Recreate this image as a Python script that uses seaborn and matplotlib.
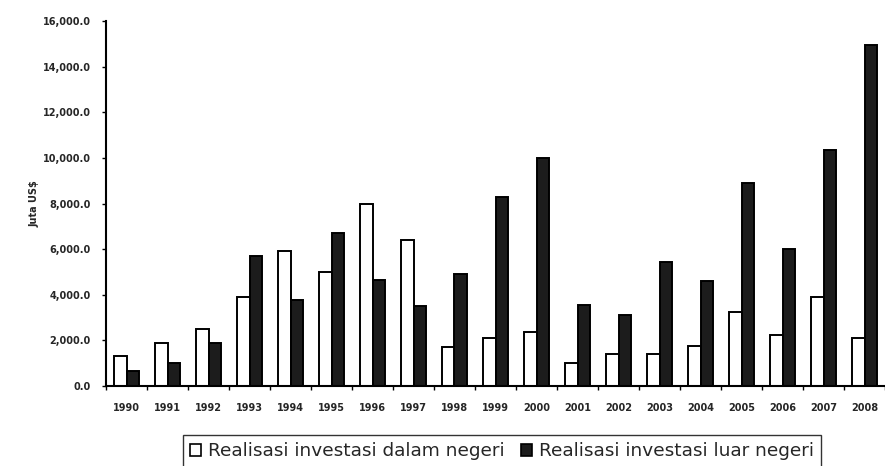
import numpy as np
import pandas as pd
import matplotlib
matplotlib.use("Agg")
import matplotlib.pyplot as plt
from matplotlib.patches import Patch
from matplotlib.ticker import FuncFormatter, FixedLocator
import seaborn as sns

# Realisasi investasi (juta US$), 1990-2008
years = ["1990", "1991", "1992", "1993", "1994", "1995", "1996", "1997", "1998", "1999",
         "2000", "2001", "2002", "2003", "2004", "2005", "2006", "2007", "2008"]
dalam_negeri = [1300, 1900, 2500, 3900, 5900, 5000, 8000, 6400, 1700, 2100,
                2350, 1000, 1400, 1400, 1750, 3250, 2250, 3900, 2100]
luar_negeri = [650, 1000, 1900, 5700, 3770, 6700, 4650, 3500, 4900, 8300,
               10000, 3550, 3100, 5450, 4600, 8900, 6000, 10350, 14950]
series_names = ["Realisasi investasi dalam negeri", "Realisasi investasi luar negeri"]
y_ticks = [0, 2000, 4000, 6000, 8000, 10000, 12000, 14000, 16000]

df = pd.DataFrame({
    "Tahun": years * 2,
    "Nilai": dalam_negeri + luar_negeri,
    "Seri": [series_names[0]] * len(years) + [series_names[1]] * len(years),
})

sns.set_theme(style="white")
plt.rcParams["font.family"] = ["DejaVu Sans"]

fig = plt.figure(figsize=(8.85, 4.66), dpi=100)
ax = fig.add_axes([106 / 885, 1 - 386 / 466, 1 - 106 / 885, (386 - 21) / 466])

colors = {series_names[0]: "#ffffff", series_names[1]: "#1c1c1c"}
sns.barplot(data=df, x="Tahun", y="Nilai", hue="Seri", order=years,
            hue_order=series_names, palette=colors, width=0.62, gap=0.0,
            edgecolor="black", linewidth=1.4, ax=ax, legend=False)

ax.set_xlim(-0.5, len(years) - 0.5)
ax.set_ylim(0, 16000)
ax.yaxis.set_major_locator(FixedLocator(y_ticks))
ax.yaxis.set_major_formatter(FuncFormatter(lambda v, p: f"{v:,.1f}"))
ax.tick_params(axis="y", which="major", direction="out", length=3, width=1,
               color="black", labelsize=7, pad=8, left=True)
for lbl in ax.get_yticklabels():
    lbl.set_fontweight("bold")

# category labels at group centres, tick marks at group boundaries
ax.set_xticks(np.arange(len(years)))
ax.set_xticklabels(years, fontsize=7, fontweight="bold")
ax.tick_params(axis="x", which="major", length=0, pad=12)
ax.set_xticks(np.arange(len(years) + 1) - 0.5, minor=True)
ax.tick_params(axis="x", which="minor", direction="out", length=3, width=1,
               color="black", bottom=True)

for side in ["top", "right"]:
    ax.spines[side].set_visible(False)
for side in ["left", "bottom"]:
    ax.spines[side].set_color("black")
    ax.spines[side].set_linewidth(1.5)

ax.set_xlabel("")
ax.set_ylabel("Juta US$", fontsize=7, fontweight="bold")
ax.yaxis.set_label_coords((40 - 106) / 779, 0.5)
ax.grid(False)

handles = [Patch(facecolor=colors[n], edgecolor="black", linewidth=1.2, label=n)
           for n in series_names]
fig.legend(handles=handles, loc="upper left", ncol=2,
           bbox_to_anchor=(183 / 885, 1 - 435 / 466), fontsize=13.3,
           frameon=True, fancybox=False, edgecolor="black",
           handlelength=0.6, handleheight=0.6, handletextpad=0.35,
           columnspacing=0.9, borderpad=0.4, borderaxespad=0.0)

fig.savefig("out.png", dpi=100, facecolor="white")
